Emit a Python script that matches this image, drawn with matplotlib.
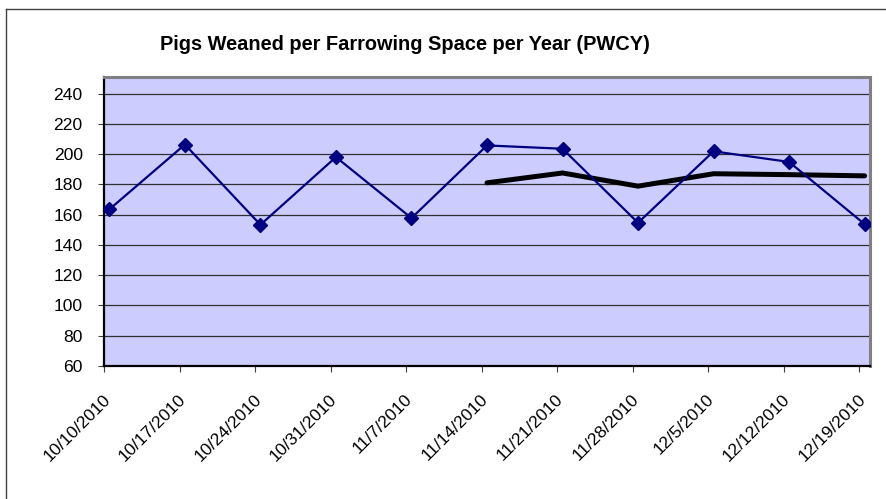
import matplotlib
matplotlib.use("Agg")
import matplotlib.pyplot as plt
from matplotlib.lines import Line2D
from matplotlib.transforms import ScaledTranslation

dates = ["10/10/2010", "10/17/2010", "10/24/2010", "10/31/2010", "11/7/2010",
         "11/14/2010", "11/21/2010", "11/28/2010", "12/5/2010", "12/12/2010",
         "12/19/2010"]
pwcy = [163.5, 206.3, 153.3, 198.0, 157.7, 205.7, 203.5, 154.6, 201.8, 194.8, 153.7]
trend_dates = dates[5:]
trend = [181.0, 187.5, 178.8, 187.0, 186.4, 185.6]
y_ticks = [60, 80, 100, 120, 140, 160, 180, 200, 220, 240]
title = "Pigs Weaned per Farrowing Space per Year (PWCY)"

plt.rcParams['font.family'] = ['Liberation Sans', 'DejaVu Sans']

W, H = 886, 499
fig = plt.figure(figsize=(W / 100, H / 100), dpi=100)
L, R, T, B = 104, 870, 77, 366
ax = fig.add_axes([L / W, 1 - B / H, (R - L) / W, (B - T) / H])
ax.set_facecolor('#CCCCFF')

day = {d: 7 * i for i, d in enumerate(dates)}
xs = [day[d] for d in dates]
txs = [day[d] for d in trend_dates]

ax.plot(xs, pwcy, color='#000080', lw=1.6, marker='D', markersize=7.5,
        markerfacecolor='#000080', markeredgecolor='#000080', zorder=4)
ax.plot(txs, trend, color='black', lw=3.6, solid_capstyle='round', zorder=3)

ax.set_xlim(-0.5, 70.5)
ax.set_ylim(60, 250.9)
ax.set_yticks(y_ticks)
ax.set_xticks([x - 0.5 for x in xs])
ax.set_xticklabels(dates, rotation=45, ha='right', va='top')
ax.tick_params(axis='both', labelsize=12.6, length=4.3, width=0.8, color='#404040')
ax.tick_params(axis='x', pad=14)
ax.tick_params(axis='y', pad=11)
for lab in ax.get_xticklabels():
    lab.set_transform(lab.get_transform() + ScaledTranslation(9 / 100, 0, fig.dpi_scale_trans))

ax.yaxis.grid(True, color='#303030', lw=0.9)
ax.set_axisbelow(True)
for s in ['left', 'bottom']:
    ax.spines[s].set_color('black')
    ax.spines[s].set_linewidth(1.6)
for s in ['top', 'right']:
    ax.spines[s].set_color('#808080')
    ax.spines[s].set_linewidth(2.2)

fig.text(404.5 / W, 1 - 50 / H, title, ha='center', va='baseline',
         fontsize=14.4, fontweight='bold')

bx, by = 5.5 / W, 1 - 8.5 / H
fig.add_artist(Line2D([bx, bx], [0, by], transform=fig.transFigure,
                      color='#404040', lw=1.0))
fig.add_artist(Line2D([bx, 1], [by, by], transform=fig.transFigure,
                      color='#404040', lw=1.0))

fig.savefig('out.png', dpi=100)
